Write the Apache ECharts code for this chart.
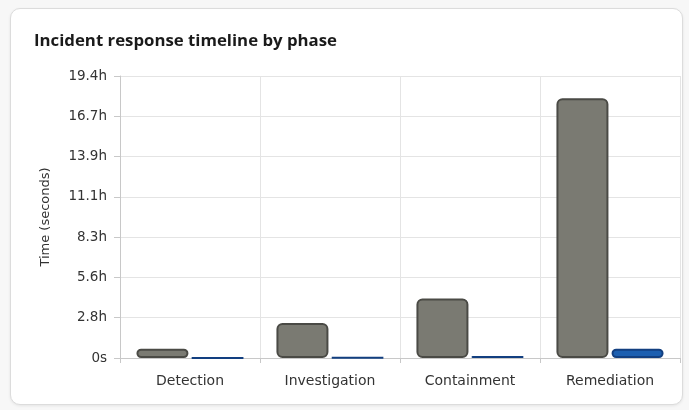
<!DOCTYPE html>
<html>
<head>
<meta charset="utf-8">
<script src="https://cdn.jsdelivr.net/npm/echarts@6/dist/echarts.min.js"></script>
<style>
  html, body { margin: 0; padding: 0; background: #f7f7f7; }
  body { width: 689px; height: 410px; position: relative; overflow: hidden; }
  .card {
    position: absolute; left: 10px; top: 8px; width: 671px; height: 395px;
    background: #fff; border: 1px solid #dcdcdc; border-radius: 10px;
    box-shadow: 0 1px 3px rgba(0,0,0,0.08);
  }
  #chart { position: absolute; left: 0; top: 0; width: 689px; height: 410px; }
</style>
</head>
<body>
<div class="card"></div>
<div id="chart"></div>
<script>
// Incident phases and their durations, in seconds
const phases = ['Detection', 'Investigation', 'Containment', 'Remediation'];
const manualSeconds = [2300, 8700, 14800, 64500];
const automatedSeconds = [60, 90, 500, 2300];
const yTickStep = 10000;
const yMax = 70000;

function formatDuration(v) {
  if (v === 0) return '0s';
  return (v / 3600).toFixed(1) + 'h';
}

const chart = echarts.init(document.getElementById('chart'), null, { renderer: 'canvas' });
chart.setOption({
  backgroundColor: 'transparent',
  animation: false,
  title: {
    text: 'Incident response timeline by phase',
    left: 29, top: 28,
    textStyle: { fontFamily: 'Open Sans', fontWeight: 'bold', fontSize: 16.8, color: '#1a1a1a' }
  },
  grid: { left: 120, right: 9, top: 76, bottom: 52, containLabel: false },
  xAxis: {
    type: 'category',
    data: phases,
    axisLine: { show: true, lineStyle: { color: '#c8c8c8' } },
    axisTick: { show: true, length: 5, lineStyle: { color: '#c8c8c8' } },
    splitLine: { show: true, lineStyle: { color: '#e4e4e4' } },
    axisLabel: { margin: 16, fontFamily: 'DejaVu Sans', fontSize: 14, color: '#333' }
  },
  yAxis: {
    type: 'value',
    min: 0, max: yMax, interval: yTickStep,
    name: 'Time (seconds)',
    nameLocation: 'middle',
    nameRotate: 90,
    nameGap: 68,
    nameTextStyle: { fontFamily: 'DejaVu Sans', fontSize: 13, color: '#333' },
    axisLine: { show: true, lineStyle: { color: '#c8c8c8' } },
    axisTick: { show: true, length: 6, lineStyle: { color: '#c8c8c8' } },
    splitLine: { show: true, lineStyle: { color: '#e4e4e4' } },
    axisLabel: { margin: 13, fontFamily: 'DejaVu Sans', fontSize: 13.5, color: '#333', formatter: formatDuration }
  },
  series: [
    {
      name: 'Manual',
      type: 'bar',
      data: manualSeconds,
      barWidth: 52,
      barGap: '6%',
      itemStyle: { color: '#7a7a72', borderColor: '#4a4a45', borderWidth: 2, borderRadius: 5 }
    },
    {
      name: 'Automated',
      type: 'bar',
      data: automatedSeconds,
      barWidth: 52,
      itemStyle: { color: '#1c5fb0', borderColor: '#123f80', borderWidth: 2, borderRadius: 5 }
    }
  ]
});
</script>
</body>
</html>
